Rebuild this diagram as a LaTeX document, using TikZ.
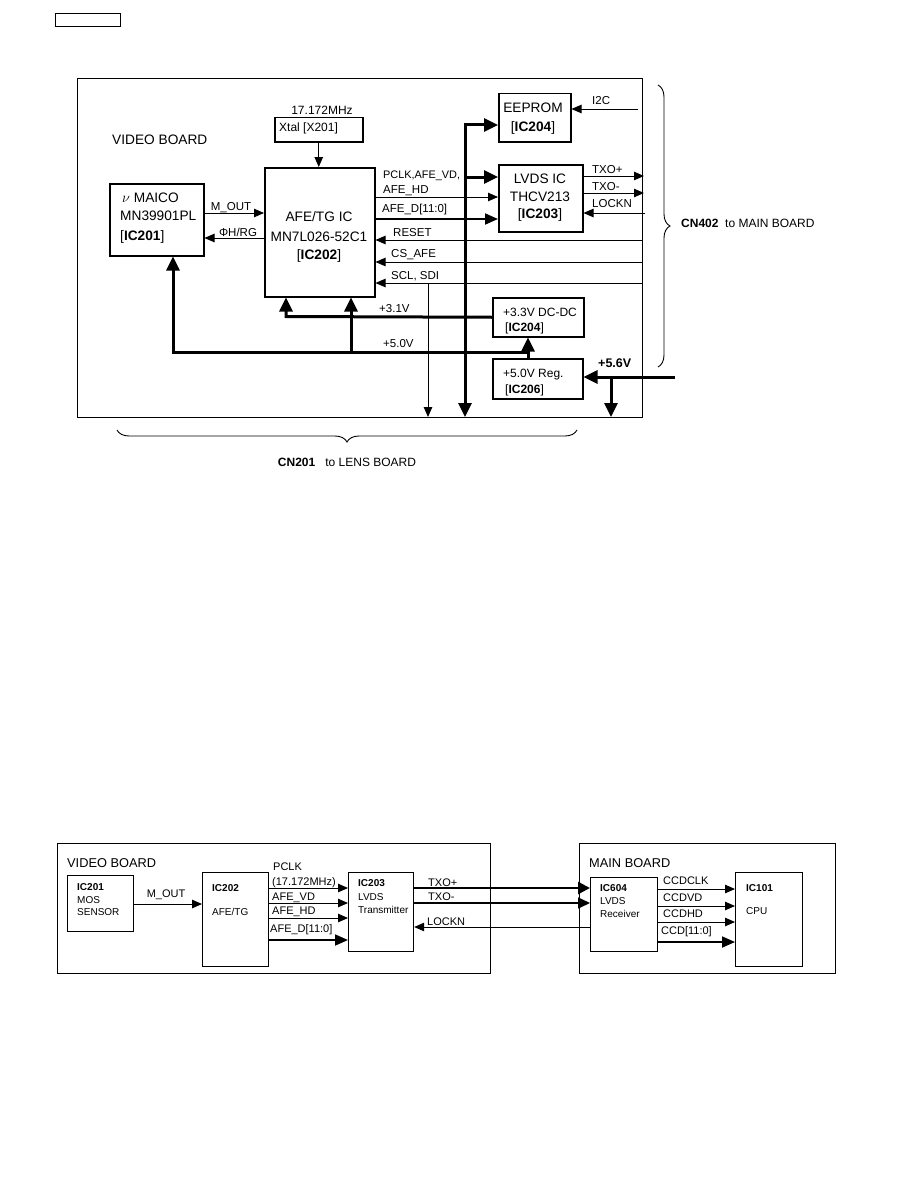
\documentclass[tikz,border=0pt]{standalone}
\usepackage{fontspec}
\setmainfont{Liberation Sans}
\usetikzlibrary{arrows.meta,decorations.pathreplacing}
\newcommand\fBig{\fontsize{13.7}{15}\selectfont}
\newcommand\fMid{\fontsize{12}{13}\selectfont}
\newcommand\fSig{\fontsize{11.5}{12.5}\selectfont}
\newcommand\fLab{\fontsize{11}{12}\selectfont}
\newcommand\fSm{\fontsize{10}{11}\selectfont}
\begin{document}
\begin{tikzpicture}[x=1pt,y=-1pt,
  box/.style={draw, line width=1.5pt, inner sep=0pt, anchor=north west},
  sbox/.style={draw, line width=1.2pt, inner sep=0pt, anchor=north west},
  board/.style={draw, line width=1.2pt, inner sep=0pt, anchor=north west},
  tb/.style={inner sep=0pt, font=\fBig, text height=9.8pt, text depth=0pt},
  tm/.style={inner sep=0pt, font=\fMid, text height=8.6pt, text depth=0pt},
  tsig/.style={inner sep=0pt, font=\fSig, text height=8.2pt, text depth=0pt},
  tl/.style={inner sep=0pt, font=\fLab, text height=7.9pt, text depth=0pt},
  ts/.style={inner sep=0pt, font=\fSm, text height=7.2pt, text depth=0pt},
  thinarr/.style={line width=0.9pt, -{Triangle[length=10pt,width=8.5pt]}},
  medarr/.style={line width=1.8pt, -{Triangle[length=13pt,width=11pt]}},
  busarr/.style={line width=3pt, -{Triangle[length=14pt,width=13pt]}},
  brc/.style={line width=0.9pt, decorate, decoration={brace, amplitude=12pt}}
]
\useasboundingbox (0,0) rectangle (918,1188);

% header placeholder
\node[draw, line width=1pt, anchor=north west, minimum width=65pt, minimum height=13pt, inner sep=0pt] (hdr) at (55,13) {};

% ================= TOP DIAGRAM =================
\node[board, minimum width=565pt, minimum height=339pt] (vboard) at (77,78) {};
\node[tb, anchor=west] (vbt) at (112,140) {VIDEO BOARD};

\node[box, minimum width=88pt, minimum height=24pt] (xtal) at (274,117) {};
\node[tm, anchor=west] (xtalt) at (279,127) {Xtal [X201]};
\node[tm] (freq) at (322,110) {17.172MHz};

\node[box, minimum width=110pt, minimum height=129pt] (afe) at (264,167) {};
\node[tb] (afe1) at (319,217) {AFE/TG IC};
\node[tb] (afe2) at (319,237) {MN7L026-52C1};
\node[tb] (afe3) at (319,255) {[\textbf{IC202}]};

\node[box, minimum width=94pt, minimum height=72pt] (maico) at (109,183) {};
\node[tb, anchor=west] (m1) at (122,198) {$\nu$ MAICO};
\node[tb, anchor=west] (m2) at (120,216) {MN39901PL};
\node[tb, anchor=west] (m3) at (120,236) {[\textbf{IC201}]};

\node[box, minimum width=72pt, minimum height=48pt] (eeprom) at (498,93) {};
\node[tb] (e1) at (533,108) {EEPROM};
\node[tb] (e2) at (533,127) {[\textbf{IC204}]};

\node[box, minimum width=84pt, minimum height=67pt] (lvds) at (498,164) {};
\node[tb] (l1) at (540,179) {LVDS IC};
\node[tb] (l2) at (540,197) {THCV213};
\node[tb] (l3) at (540,214) {[\textbf{IC203}]};

\node[box, minimum width=91pt, minimum height=39pt] (dcdc) at (492,297) {};
\node[tm, anchor=west] (d1) at (503,312) {+3.3V DC-DC};
\node[tm, anchor=west] (d2) at (505,327) {[\textbf{IC204}]};

\node[box, minimum width=90pt, minimum height=40pt] (reg) at (492,358) {};
\node[tm, anchor=west] (r1) at (503,373) {+5.0V Reg.};
\node[tm, anchor=west] (r2) at (505,389) {[\textbf{IC206}]};

% xtal -> afe
\draw[thinarr] (xtal.south) -- (xtal.south |- afe.north);

% maico <-> afe
\draw[thinarr] (maico.east |- 0,213) -- (afe.west |- 0,213);
\node[tsig] (mout) at (231,206) {M\_OUT};
\draw[thinarr] (afe.west |- 0,238) -- (maico.east |- 0,238);
\node[tsig] (phi) at (238,232) {ΦH/RG};

% afe -> lvds
\node[tsig, anchor=west, font=\fontsize{10.9}{12}\selectfont] (pclk) at (383,174) {PCLK,AFE\_VD,};
\node[tsig, anchor=west] (afehd) at (383,189) {AFE\_HD};
\draw[thinarr] (afe.east |- 0,197) -- (lvds.west |- 0,197);
\node[tsig, anchor=west] (afed) at (382,208) {AFE\_D[11:0]};
\draw[medarr] (afe.east |- 0,219) -- (lvds.west |- 0,219);

% bus
\coordinate (busbot) at (465,417);
\coordinate (bustop) at (465,125);
\draw[line width=3pt, {Triangle[length=14pt,width=13pt]}-{Triangle[length=14pt,width=13pt]}]
  (busbot) -- (bustop) -- (eeprom.west |- bustop);
\draw[busarr] (465,177) -- (lvds.west |- 0,177);

% right side signals
\coordinate (edgeI) at (638,109);
\draw[thinarr] (edgeI) -- (eeprom.east |- edgeI);
\node[tsig, anchor=west] (i2c) at (592,100) {I2C};

\coordinate (etp) at (644,176);
\coordinate (etm) at (644,193);
\coordinate (elk) at (645,213);
\draw[thinarr] (lvds.east |- etp) -- (etp);
\draw[thinarr] (lvds.east |- etm) -- (etm);
\draw[thinarr] (elk) -- (lvds.east |- elk);
\node[tsig, anchor=west] (txp) at (592,169) {TXO+};
\node[tsig, anchor=west] (txm) at (592,186) {TXO-};
\node[tsig, anchor=west] (lockn) at (592,203) {LOCKN};

\coordinate (ers) at (642,240);
\coordinate (ecs) at (642,262);
\coordinate (esc) at (642,283);
\draw[thinarr] (ers) -- (afe.east |- ers);
\draw[thinarr] (ecs) -- (afe.east |- ecs);
\draw[thinarr] (esc) -- (afe.east |- esc);
\node[tsig, anchor=west] (reset) at (393,232) {RESET};
\node[tsig, anchor=west] (csafe) at (391,253) {CS\_AFE};
\node[tsig, anchor=west] (sclsdi) at (391,275) {SCL, SDI};
\draw[thinarr] (428,283) -- (428,417);

% power
\draw[busarr] (dcdc.west) -- (286,316.5) -- (286,0 |- afe.south);
\node[tsig, anchor=west] (v31) at (379,308) {+3.1V};
\coordinate (p5) at (528,352);
\draw[busarr] (p5) -- (173,352) -- (173,0 |- maico.south);
\draw[busarr] (351,352) -- (351,0 |- afe.south);
\draw[busarr] (reg.north -| p5) -- (p5 |- dcdc.south);
\node[tsig, anchor=west] (v50) at (383,343) {+5.0V};

\coordinate (in56) at (675,377);
\draw[busarr] (in56) -- (reg.east |- in56);
\draw[busarr] (611,377) -- (611,417);
\node[tm, anchor=west, font=\fontsize{12.5}{13}\selectfont\bfseries] (v56) at (598,363) {+5.6V};

% braces
\draw[brc] (658,85) -- (658,367);
\node[tm, anchor=west] (cn402) at (681,223) {\textbf{CN402}\ \ to MAIN BOARD};
\draw[brc] (577,430) -- (117,430);
\node[tm] (cn201) at (347,462) {\textbf{CN201}\ \ \ to LENS BOARD};

% ================= BOTTOM DIAGRAM =================
\node[board, minimum width=433pt, minimum height=130pt] (vb2) at (57,843) {};
\node[tm, font=\fontsize{12.8}{14}\selectfont, anchor=west] (vb2t) at (67,863) {VIDEO BOARD};
\node[board, minimum width=256pt, minimum height=130pt] (mb) at (579,843) {};
\node[tm, font=\fontsize{12.8}{14}\selectfont, anchor=west] (mbt) at (589,863) {MAIN BOARD};

\node[sbox, minimum width=66pt, minimum height=56pt] (ic201) at (67,875) {};
\node[ts, anchor=west] (a1) at (77,887) {\textbf{IC201}};
\node[ts, anchor=west] (a2) at (77,900) {MOS};
\node[ts, anchor=west] (a3) at (77,912) {SENSOR};

\node[sbox, minimum width=66pt, minimum height=94pt] (ic202) at (202,872) {};
\node[ts, anchor=west] (b1) at (212,888) {\textbf{IC202}};
\node[ts, anchor=west] (b2) at (212,912) {AFE/TG};

\node[sbox, minimum width=65pt, minimum height=79pt] (ic203) at (348,872) {};
\node[ts, anchor=west] (c1) at (358,883) {\textbf{IC203}};
\node[ts, anchor=west] (c2) at (358,897) {LVDS};
\node[ts, anchor=west] (c3) at (358,910) {Transmitter};

\node[sbox, minimum width=67pt, minimum height=74pt] (ic604) at (590,877) {};
\node[ts, anchor=west] (d61) at (600,888) {\textbf{IC604}};
\node[ts, anchor=west] (d62) at (600,901) {LVDS};
\node[ts, anchor=west] (d63) at (600,914) {Receiver};

\node[sbox, minimum width=67pt, minimum height=94pt] (ic101) at (735,872) {};
\node[ts, anchor=west] (f1) at (746,888) {\textbf{IC101}};
\node[ts, anchor=west] (f2) at (746,911) {CPU};

\draw[thinarr] (ic201.east |- 0,904) -- (ic202.west |- 0,904);
\node[tl] (mout2) at (166,894) {M\_OUT};

\draw[thinarr] (ic202.east |- 0,888) -- (ic203.west |- 0,888);
\draw[thinarr] (ic202.east |- 0,903) -- (ic203.west |- 0,903);
\draw[thinarr] (ic202.east |- 0,918) -- (ic203.west |- 0,918);
\draw[medarr] (ic202.east |- 0,940) -- (ic203.west |- 0,940);
\node[tl, anchor=west] (g1) at (273,867) {PCLK};
\node[tl, anchor=west] (g2) at (272,882) {(17.172MHz)};
\node[tl, anchor=west] (g3) at (272,897) {AFE\_VD};
\node[tl, anchor=west] (g4) at (272,911) {AFE\_HD};
\node[tl, anchor=west] (g5) at (270,929) {AFE\_D[11:0]};

\draw[line width=2.5pt, -{Triangle[length=12pt,width=12pt]}] (ic203.east |- 0,888) -- (ic604.west |- 0,888);
\draw[line width=1.5pt, -{Triangle[length=12pt,width=11pt]}] (ic203.east |- 0,903) -- (ic604.west |- 0,903);
\draw[thinarr] (ic604.west |- 0,927) -- (ic203.east |- 0,927);
\node[tl, anchor=west] (h1) at (428,883) {TXO+};
\node[tl, anchor=west] (h2) at (428,897) {TXO-};
\node[tl, anchor=west] (h3) at (427,922) {LOCKN};

\draw[thinarr] (ic604.east |- 0,889) -- (ic101.west |- 0,889);
\draw[thinarr] (ic604.east |- 0,906) -- (ic101.west |- 0,906);
\draw[thinarr] (ic604.east |- 0,922) -- (ic101.west |- 0,922);
\draw[medarr] (ic604.east |- 0,942) -- (ic101.west |- 0,942);
\node[tl, anchor=west] (k1) at (663,881) {CCDCLK};
\node[tl, anchor=west] (k2) at (663,898) {CCDVD};
\node[tl, anchor=west] (k3) at (663,914) {CCDHD};
\node[tl, anchor=west] (k4) at (661,931) {CCD[11:0]};

\end{tikzpicture}
\end{document}
